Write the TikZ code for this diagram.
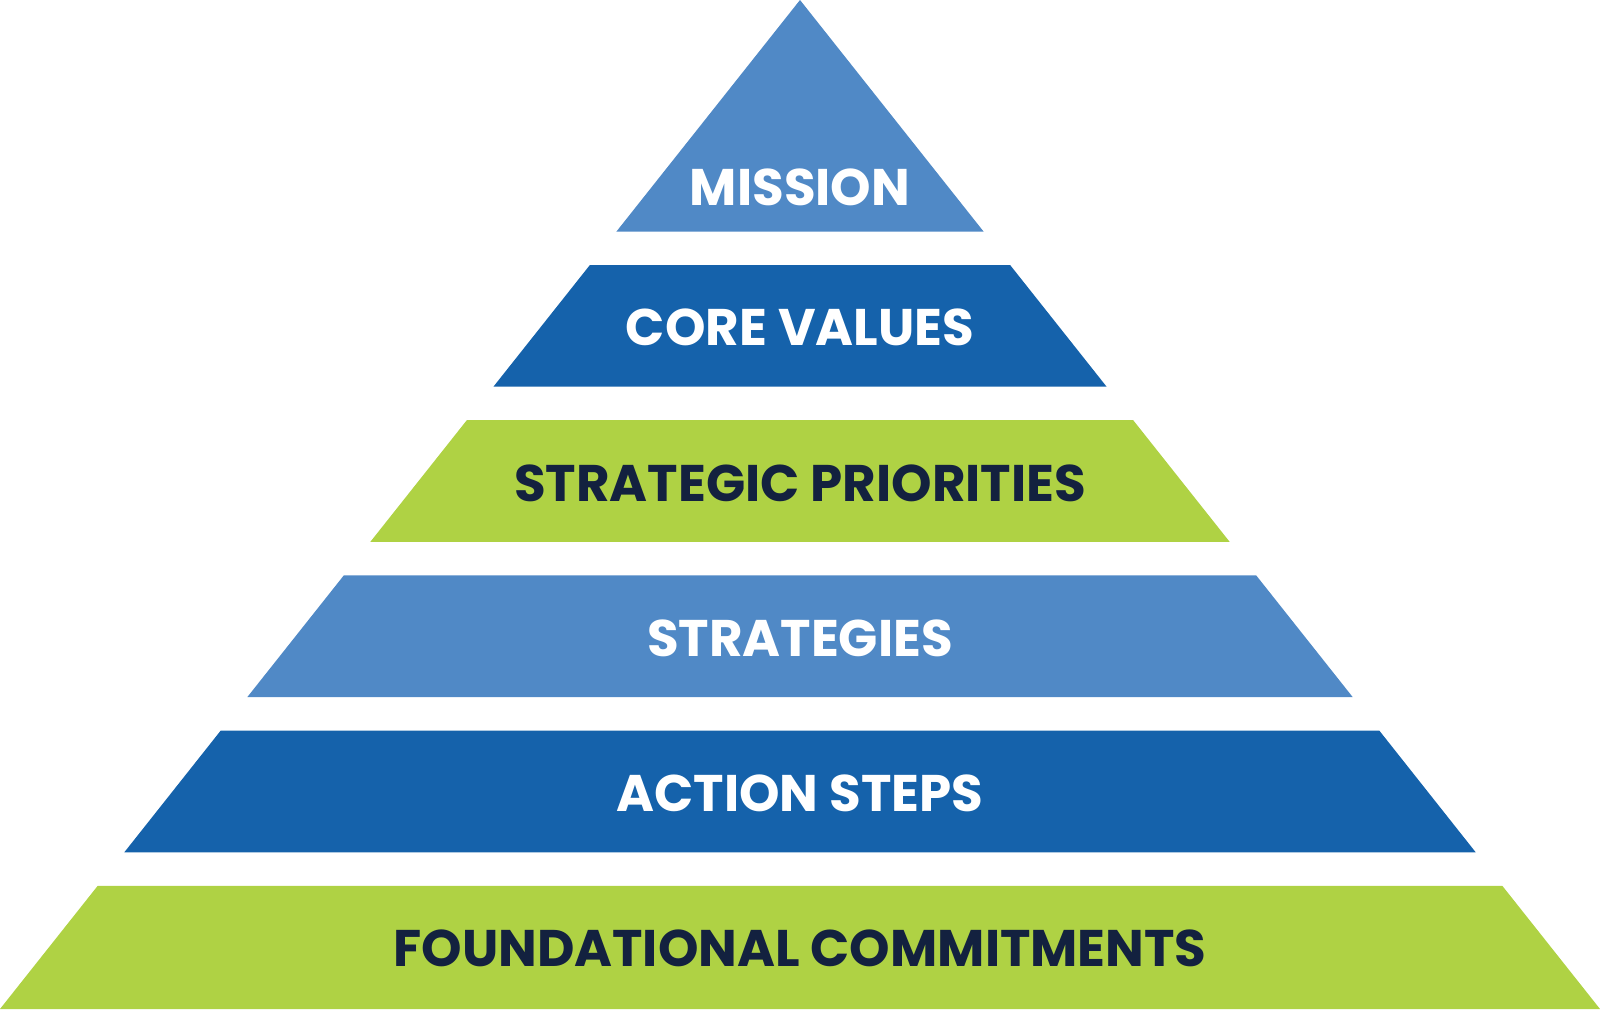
\documentclass[tikz,border=0pt]{standalone}
\usepackage{fontspec}
\setmainfont{Poppins}
\definecolor{lightblue}{HTML}{5089C6}
\definecolor{darkblue}{HTML}{1562AB}
\definecolor{limegreen}{HTML}{AFD244}
\definecolor{navy}{HTML}{13213F}
\begin{document}
\begin{tikzpicture}[x=1pt,y=-1pt,
  lbl/.style={font=\fontsize{51.5}{52}\selectfont\bfseries, inner sep=0pt, anchor=center},
  wlbl/.style={lbl, text=white},
  dlbl/.style={lbl, text=navy}]
\useasboundingbox (0,0) rectangle (1600,1009);
\fill[lightblue] (800,0) -- (983.7,231.7) -- (616.3,231.7) -- cycle;
\fill[darkblue] (589.9,265) -- (1010.1,265) -- (1106.6,386.7) -- (493.4,386.7) -- cycle;
\fill[limegreen] (466.8,420.2) -- (1133.2,420.2) -- (1229.7,541.9) -- (370.3,541.9) -- cycle;
\fill[lightblue] (343.8,575.4) -- (1256.2,575.4) -- (1352.7,697.1) -- (247.3,697.1) -- cycle;
\fill[darkblue] (220.7,730.6) -- (1379.3,730.6) -- (1475.7,852.3) -- (124.3,852.3) -- cycle;
\fill[limegreen] (97.7,885.8) -- (1502.3,885.8) -- (1600,1009) -- (0,1009) -- cycle;
\node[wlbl] (mission) at (800,187) {MISSION};
\node[wlbl] (core) at (800,327.5) {CORE VALUES};
\node[dlbl] (prio) at (800,483) {STRATEGIC PRIORITIES};
\node[wlbl] (strat) at (800,638.5) {STRATEGIES};
\node[wlbl] (action) at (800,793.5) {ACTION STEPS};
\node[dlbl] (found) at (800,948.5) {FOUNDATIONAL COMMITMENTS};
\end{tikzpicture}
\end{document}
